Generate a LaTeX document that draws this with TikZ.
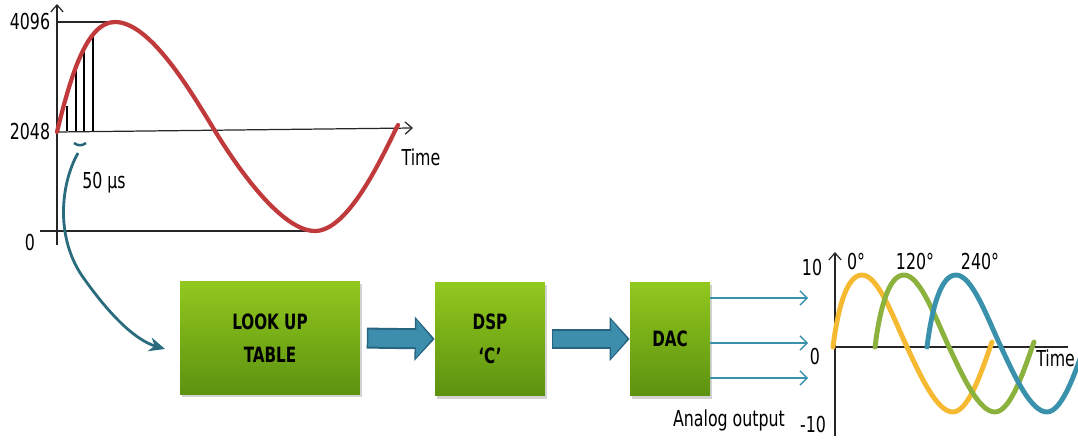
\documentclass[tikz,border=0pt]{standalone}
\usepackage{fontspec}
\setmainfont[FakeStretch=0.8]{DejaVu Sans Condensed}
\usepackage{tikz}
\usetikzlibrary{arrows.meta,positioning,shadows}

\definecolor{sinered}{RGB}{192,57,59}
\definecolor{boxtop}{RGB}{146,200,30}
\definecolor{boxbot}{RGB}{92,146,16}
\definecolor{flowblue}{RGB}{60,142,172}
\definecolor{flowdark}{RGB}{38,100,128}
\definecolor{linkteal}{RGB}{42,108,124}
\definecolor{phaseA}{RGB}{245,186,50}
\definecolor{phaseB}{RGB}{140,178,62}
\definecolor{phaseC}{RGB}{58,145,172}

\tikzset{
    axis/.style={line width=0.7pt, black!85},
    axisarrow/.style={axis, -{Straight Barb[length=4pt,width=7pt]}},
    label/.style={font=\fontsize{12.5}{14}\selectfont},
    block/.style={
        top color=boxtop, bottom color=boxbot, draw=none,
        drop shadow={opacity=0.35, shadow xshift=1pt, shadow yshift=-1.5pt},
        align=center, font=\fontsize{12}{19}\selectfont\bfseries
    },
    flowrim/.style={line width=0.42cm, flowdark, shorten <=0.13cm,
        -{Triangle[length=0.40cm,width=0.86cm]}},
    flow/.style={line width=0.34cm, flowblue, shorten <=0.16cm, shorten >=0.05cm,
        -{Triangle[length=0.32cm,width=0.74cm]}},
    output/.style={line width=0.8pt, phaseC, -{Straight Barb[length=4pt,width=8pt]}},
    wave/.style={line width=2.8pt, line cap=round}
}

\newcommand{\phasewave}{%
    (0,0) .. controls (5,-40) and (14,-72) .. (29,-72)
    .. controls (45,-72) and (60,-30) .. (74,0)
    .. controls (88,30) and (104,65) .. (120,65)
    .. controls (136,65) and (150,20) .. (159,-5)}

\begin{document}
\begin{tikzpicture}[x=0.02cm, y=-0.02cm]

    \useasboundingbox (0,0) rectangle (1078,442);

    % sampled sine
    \draw [axisarrow] (57,245) -- (57,4);
    \draw [axisarrow] (57,132) -- (413,128);
    \draw [axis] (57,22) -- (118,22);
    \draw [axis] (40,231) -- (315,231);
    \foreach \sx/\sy in {67/106, 76/63, 84/50, 93/33}
        \draw [line width=0.7pt] (\sx,131) -- (\sx,\sy);
    \draw [sinered, line width=2.4pt, line cap=round]
        (57,132) .. controls (72,70) and (88,22) .. (115,22)
        .. controls (150,22) and (190,90) .. (215,131)
        .. controls (245,180) and (285,231) .. (315,231)
        .. controls (350,231) and (385,150) .. (398,125);

    \node [label] (v4096) at (30,22) {4096};
    \node [label] (v2048) at (30,132) {2048};
    \node [label] (v0) at (30,243) {0};
    \node [label] (time1) at (421,157) {Time};
    \node [label] (period) at (104,183) {50 µs};
    \draw [phaseC!70!black, line width=1.4pt] (74,143) to[bend right=40] (86,143);
    \coordinate (pick) at (78,153);

    % signal chain
    \node [block, minimum width=3.6cm, minimum height=2.26cm] (lut) at (270,338)
        {LOOK UP\\TABLE};
    \node [block, minimum width=2.2cm, minimum height=2.28cm] (dsp) at (490,339)
        {DSP\\‘C’};
    \node [block, minimum width=1.6cm, minimum height=2.28cm] (dac) at (670,339)
        {DAC};

    \coordinate (lutin) at (165,349);
    \draw [linkteal, line width=1.6pt, -{Stealth[length=9pt,width=8pt]}]
        (pick) .. controls (60,185) and (55,240) .. (85,280)
        .. controls (110,315) and (135,340) .. (lutin);

    \draw [flowrim] (lut.east) -- (dsp.west);
    \draw [flow] (lut.east) -- (dsp.west);
    \draw [flowrim] (dsp.east) -- (dac.west);
    \draw [flow] (dsp.east) -- (dac.west);

    \coordinate (out1) at (808,298);
    \coordinate (out2) at (808,343);
    \coordinate (out3) at (808,378);
    \foreach \o in {out1, out2, out3}
        \draw [output] (dac.east |- \o) -- (\o);
    \node [label] (analog) at (729,420) {Analog output};

    % three phase output
    \draw [axisarrow] (835,436) -- (835,252);
    \draw [axis] (835,347) -- (1068,347);
    \node [label] (p10) at (812,268) {10};
    \node [label] (p0) at (815,357) {0};
    \node [label] (m10) at (813,425) {-10};
    \node [label] (deg0) at (856,262) {0°};
    \node [label] (deg120) at (915,262) {120°};
    \node [label] (deg240) at (980,262) {240°};

    \begin{scope}
        \clip (0,0) rectangle (1078,442);
        \draw [wave, phaseA, shift={(833,347)}] \phasewave;
        \draw [wave, phaseB, shift={(875,347)}] \phasewave;
        \draw [wave, phaseC, shift={(927,347)}] \phasewave;
    \end{scope}
    \node [label, anchor=east, inner sep=1pt] (time2) at (1077,358) {Time};

\end{tikzpicture}
\end{document}
